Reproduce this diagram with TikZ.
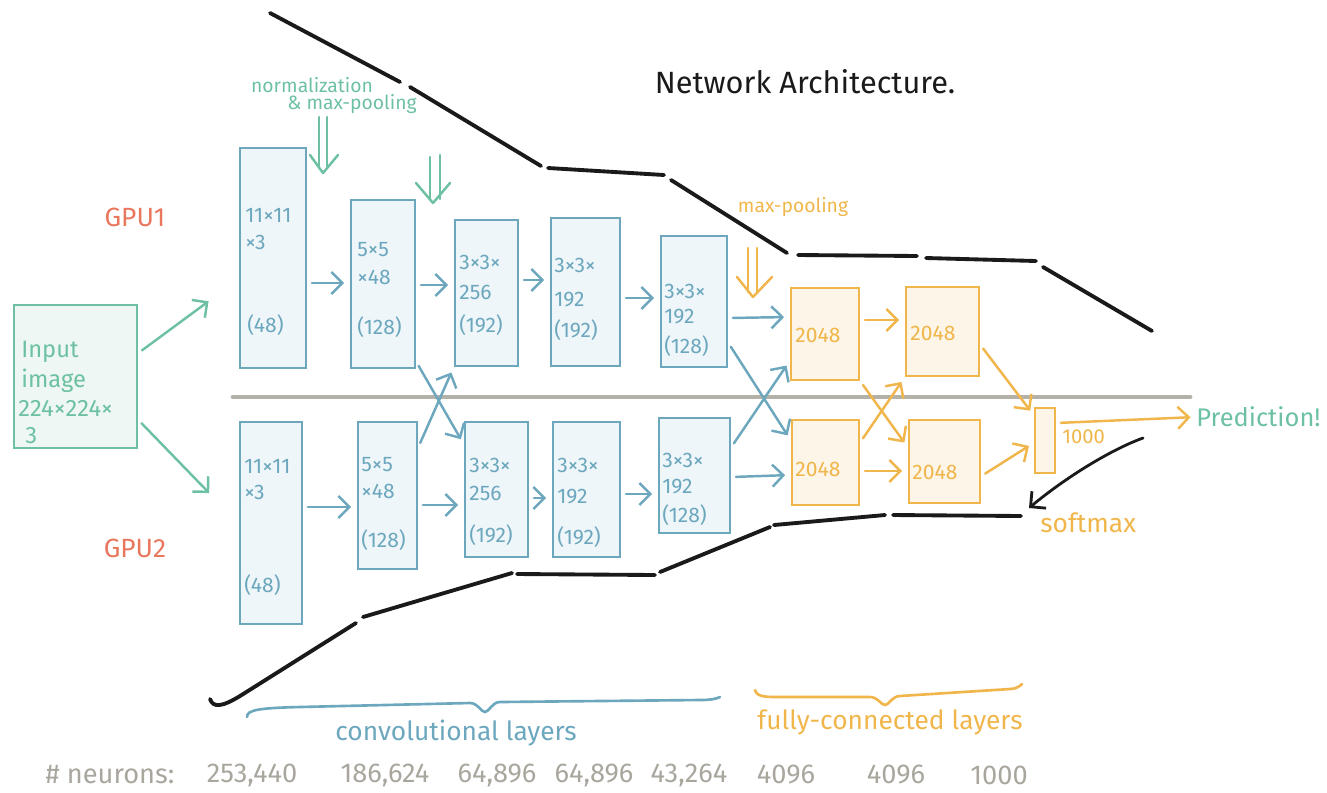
\documentclass[tikz,border=0pt]{standalone}
\usepackage{fontspec}
\setmainfont{Fira Sans}
\usetikzlibrary{arrows.meta,fit}
\definecolor{cblue}{HTML}{6CA7BE}
\definecolor{cbluefill}{HTML}{EEF6F9}
\definecolor{cgreen}{HTML}{6DC1A2}
\definecolor{cgreenfill}{HTML}{EEF7F3}
\definecolor{corange}{HTML}{F0B64B}
\definecolor{corangefill}{HTML}{FDF5E7}
\definecolor{cred}{HTML}{E8775E}
\definecolor{cgraytxt}{HTML}{A9A69E}
\definecolor{cdivider}{HTML}{B4B2A8}
\definecolor{cblack}{HTML}{1A1A1A}
\begin{document}
\begin{tikzpicture}[x=0.02cm,y=-0.02cm,
  boxbase/.style={rectangle,inner sep=0pt,line width=1.6pt},
  conv/.style={boxbase,draw=cblue,fill=cbluefill},
  fcbox/.style={boxbase,draw=corange,fill=corangefill},
  inbox/.style={boxbase,draw=cgreen,fill=cgreenfill},
  txt/.style={anchor=west,inner sep=0pt,font=\fontsize{12}{14}\selectfont},
  btxt/.style={txt,text=cblue},
  otxt/.style={txt,text=corange},
  gtxt/.style={txt,text=cgreen,font=\fontsize{13.5}{15}\selectfont},
  tipb/.style={-{Straight Barb[length=2.2mm,width=4.4mm]}},
  arr/.style={line width=1.4pt,line cap=round,tipb,shorten <=0.9mm,shorten >=1.1mm},
  barrow/.style={arr,draw=cblue},
  oarrow/.style={arr,draw=corange},
  garrow/.style={arr,draw=cgreen},
  funnel/.style={draw=cblack,line width=2.2pt,line cap=round},
  pool/.style={line width=1.4pt,line cap=round,line join=round}
]
\useasboundingbox (0,0) rectangle (1327,792);

% divider
\draw[cdivider,line width=2.8pt,line cap=round] (233,397) -- (1190,397);

% title
\node[inner sep=0pt,font=\fontsize{17.5}{20}\selectfont,text=cblack] (title) at (805,82) {Network Architecture.};

% GPU labels
\node[inner sep=0pt,font=\fontsize{15}{17}\selectfont,text=cred] (gpu1) at (135,217) {GPU1};
\node[inner sep=0pt,font=\fontsize{15}{17}\selectfont,text=cred] (gpu2) at (135,548) {GPU2};

% input
\node[inbox,fit={(14,305)(137,448)}] (in) {};
\node[gtxt] (in1) at (21,352) {Input};
\node[gtxt] (in2) at (21,381) {image};
\node[gtxt] (in3) at (18,408) {224×224×};
\node[gtxt] (in4) at (25,436) {3};
\coordinate (gin1) at (213,298);
\coordinate (gin2) at (213,497);
\draw[garrow] (in.east |- 0,353) -- (gin1);
\draw[garrow] (in.east |- 0,420) -- (gin2);

% top conv layers
\node[conv,fit={(240,148)(306,368)}] (t1) {};
\node[conv,fit={(351,200)(415,368)}] (t2) {};
\node[conv,fit={(455,220)(518,366)}] (t3) {};
\node[conv,fit={(551,218)(620,366)}] (t4) {};
\node[conv,fit={(661,236)(727,367)}] (t5) {};
% bottom conv layers
\node[conv,fit={(240,422)(302,624)}] (b1) {};
\node[conv,fit={(358,422)(417,569)}] (b2) {};
\node[conv,fit={(465,422)(528,557)}] (b3) {};
\node[conv,fit={(553,422)(620,557)}] (b4) {};
\node[conv,fit={(659,418)(730,533)}] (b5) {};

% texts top
\node[btxt] (t1a) at (245,215) {11×11};
\node[btxt] (t1b) at (245,242) {×3};
\node[btxt] (t1c) at (247,325) {(48)};
\node[btxt] (t2a) at (357,250) {5×5};
\node[btxt] (t2b) at (357,277) {×48};
\node[btxt] (t2c) at (357,327) {(128)};
\node[btxt] (t3a) at (459,262) {3×3×};
\node[btxt] (t3b) at (459,292) {256};
\node[btxt] (t3c) at (459,325) {(192)};
\node[btxt] (t4a) at (554,265) {3×3×};
\node[btxt] (t4b) at (554,300) {192};
\node[btxt] (t4c) at (554,330) {(192)};
\node[btxt] (t5a) at (664,291) {3×3×};
\node[btxt] (t5b) at (664,317) {192};
\node[btxt] (t5c) at (664,346) {(128)};
% texts bottom
\node[btxt] (b1a) at (244,466) {11×11};
\node[btxt] (b1b) at (244,492) {×3};
\node[btxt] (b1c) at (244,585) {(48)};
\node[btxt] (b2a) at (361,465) {5×5};
\node[btxt] (b2b) at (361,491) {×48};
\node[btxt] (b2c) at (361,540) {(128)};
\node[btxt] (b3a) at (469,465) {3×3×};
\node[btxt] (b3b) at (469,493) {256};
\node[btxt] (b3c) at (469,535) {(192)};
\node[btxt] (b4a) at (557,465) {3×3×};
\node[btxt] (b4b) at (557,497) {192};
\node[btxt] (b4c) at (557,537) {(192)};
\node[btxt] (b5a) at (662,460) {3×3×};
\node[btxt] (b5b) at (662,487) {192};
\node[btxt] (b5c) at (662,515) {(128)};

% fully connected
\node[fcbox,fit={(791,288)(859,380)}] (f1) {};
\node[fcbox,fit={(906,287)(979,376)}] (f2) {};
\node[fcbox,fit={(792,420)(859,505)}] (f3) {};
\node[fcbox,fit={(909,420)(980,503)}] (f4) {};
\node[fcbox,fit={(1035,408)(1055,473)}] (o) {};
\node[otxt] (f1a) at (795,335) {2048};
\node[otxt] (f2a) at (910,333) {2048};
\node[otxt] (f3a) at (795,469) {2048};
\node[otxt] (f4a) at (912,472) {2048};
\node[otxt,font=\fontsize{11.5}{13}\selectfont] (oa) at (1062,437) {1000};
\node[txt,text=cgreen,font=\fontsize{14.5}{16}\selectfont] (pred) at (1196,417) {Prediction!};

% conv arrows
\draw[barrow] (t1.east |- 0,283) -- (t2.west |- 0,283);
\draw[barrow] (t2.east |- 0,285) -- (t3.west |- 0,285);
\draw[barrow] (t3.east |- 0,280) -- (t4.west |- 0,280);
\draw[barrow] (t4.east |- 0,298) -- (t5.west |- 0,298);
\draw[barrow] (t5.east |- 0,318) -- (f1.west |- 0,317);
\draw[barrow] (b1.east |- 0,507) -- (b2.west |- 0,507);
\draw[barrow] (b2.east |- 0,505) -- (b3.west |- 0,505);
\draw[barrow] (b3.east |- 0,498) -- (b4.west |- 0,498);
\draw[barrow] (b4.east |- 0,494) -- (b5.west |- 0,494);
\draw[barrow] (b5.east |- 0,477) -- (f3.west |- 0,475);
\draw[barrow] (t2.east |- 0,362) -- (b3.west |- 0,444);
\draw[barrow] (b2.east |- 0,447) -- (t3.south west);
\draw[barrow] (t5.east |- 0,343) -- (f3.west |- 0,440);
\draw[barrow] (b5.east |- 0,447) -- (f1.west |- 0,361);

% fc arrows
\draw[oarrow] (f1.east |- 0,320) -- (f2.west |- 0,320);
\draw[oarrow] (f3.east |- 0,471) -- (f4.west |- 0,471);
\draw[oarrow] (f1.south east) -- (f4.west |- 0,447);
\draw[oarrow] (f3.east |- 0,442) -- (f2.south west);
\draw[oarrow] (f2.east |- 0,345) -- (o.west |- 0,415);
\draw[oarrow] (f4.east |- 0,476) -- (o.west |- 0,443);
\draw[oarrow] (o.east |- 0,423) -- (pred.west);

% pooling markers
\node[inner sep=0pt,text=cgreen,font=\fontsize{11}{13}\selectfont] (norm1) at (312,85) {normalization};
\node[inner sep=0pt,text=cgreen,font=\fontsize{11}{13}\selectfont] (norm2) at (352,104) {\& max-pooling};
\draw[pool,cgreen] (319,117) -- (319,168) (327,117) -- (327,168);
\draw[pool,cgreen] (310,155) -- (323,173) -- (338,155);
\draw[pool,cgreen] (430,157) -- (430,199) (440,155) -- (440,199);
\draw[pool,cgreen] (416,183) -- (433,203) -- (450,183);
\node[inner sep=0pt,text=corange,font=\fontsize{11}{13}\selectfont] (mp) at (793,207) {max-pooling};
\draw[pool,corange] (748,248) -- (748,292) (757,248) -- (757,292);
\draw[pool,corange] (737,277) -- (753,297) -- (772,277);

% funnel top
\draw[funnel] (270,13) -- (400,82);
\draw[funnel] (410,87) -- (541,166);
\draw[funnel] (548,168) -- (664,175);
\draw[funnel] (671,180) -- (787,253);
\draw[funnel] (798,255) -- (917,256);
\draw[funnel] (926,258) -- (1036,261);
\draw[funnel] (1043,267) -- (1152,331);
% funnel bottom
\draw[funnel] (210,699) .. controls (213,708) and (222,707) .. (240,696) -- (356,623);
\draw[funnel] (363,617) -- (512,573);
\draw[funnel] (517,574) -- (655,575);
\draw[funnel] (660,572) -- (770,527);
\draw[funnel] (774,525) -- (885,515);
\draw[funnel] (893,515) -- (1021,516);
\draw[funnel,line width=1.6pt,-{Straight Barb[length=2.2mm,width=4.4mm]}] (1143,438) .. controls (1110,450) and (1065,478) .. (1029,508);
\node[otxt,font=\fontsize{15}{17}\selectfont] (soft) at (1040,523) {softmax};

% braces
\draw[cblue,line width=1.5pt,line cap=round] (247,717) .. controls (247,710) and (258,708) .. (300,707) -- (470,703) .. controls (478,703) and (481,712) .. (485,712) .. controls (489,712) and (492,702) .. (500,702) -- (700,700) .. controls (710,700) and (716,699) .. (720,697);
\draw[corange,line width=1.5pt,line cap=round] (755,690) .. controls (757,697) and (765,697) .. (780,697) -- (870,697) .. controls (878,697) and (881,705) .. (885,705) .. controls (889,705) and (892,696) .. (900,696) -- (1010,689) .. controls (1016,689) and (1020,686) .. (1022,684);
\node[inner sep=0pt,text=cblue,font=\fontsize{15}{17}\selectfont] (convl) at (456,733) {convolutional layers};
\node[inner sep=0pt,text=corange,font=\fontsize{15}{17}\selectfont] (fcl) at (890,722) {fully-connected layers};

% neuron counts
\tikzset{ntxt/.style={inner sep=0pt,text=cgraytxt,font=\fontsize{15.5}{17}\selectfont}}
\node[ntxt] (nl) at (110,775) {\# neurons:};
\node[ntxt] (n1) at (252,775) {253,440};
\node[ntxt] (n2) at (385,775) {186,624};
\node[ntxt] (n3) at (497,775) {64,896};
\node[ntxt] (n4) at (594,775) {64,896};
\node[ntxt] (n5) at (689,775) {43,264};
\node[ntxt] (n6) at (786,775) {4096};
\node[ntxt] (n7) at (896,775) {4096};
\node[ntxt] (n8) at (999,775) {1000};
\end{tikzpicture}
\end{document}
